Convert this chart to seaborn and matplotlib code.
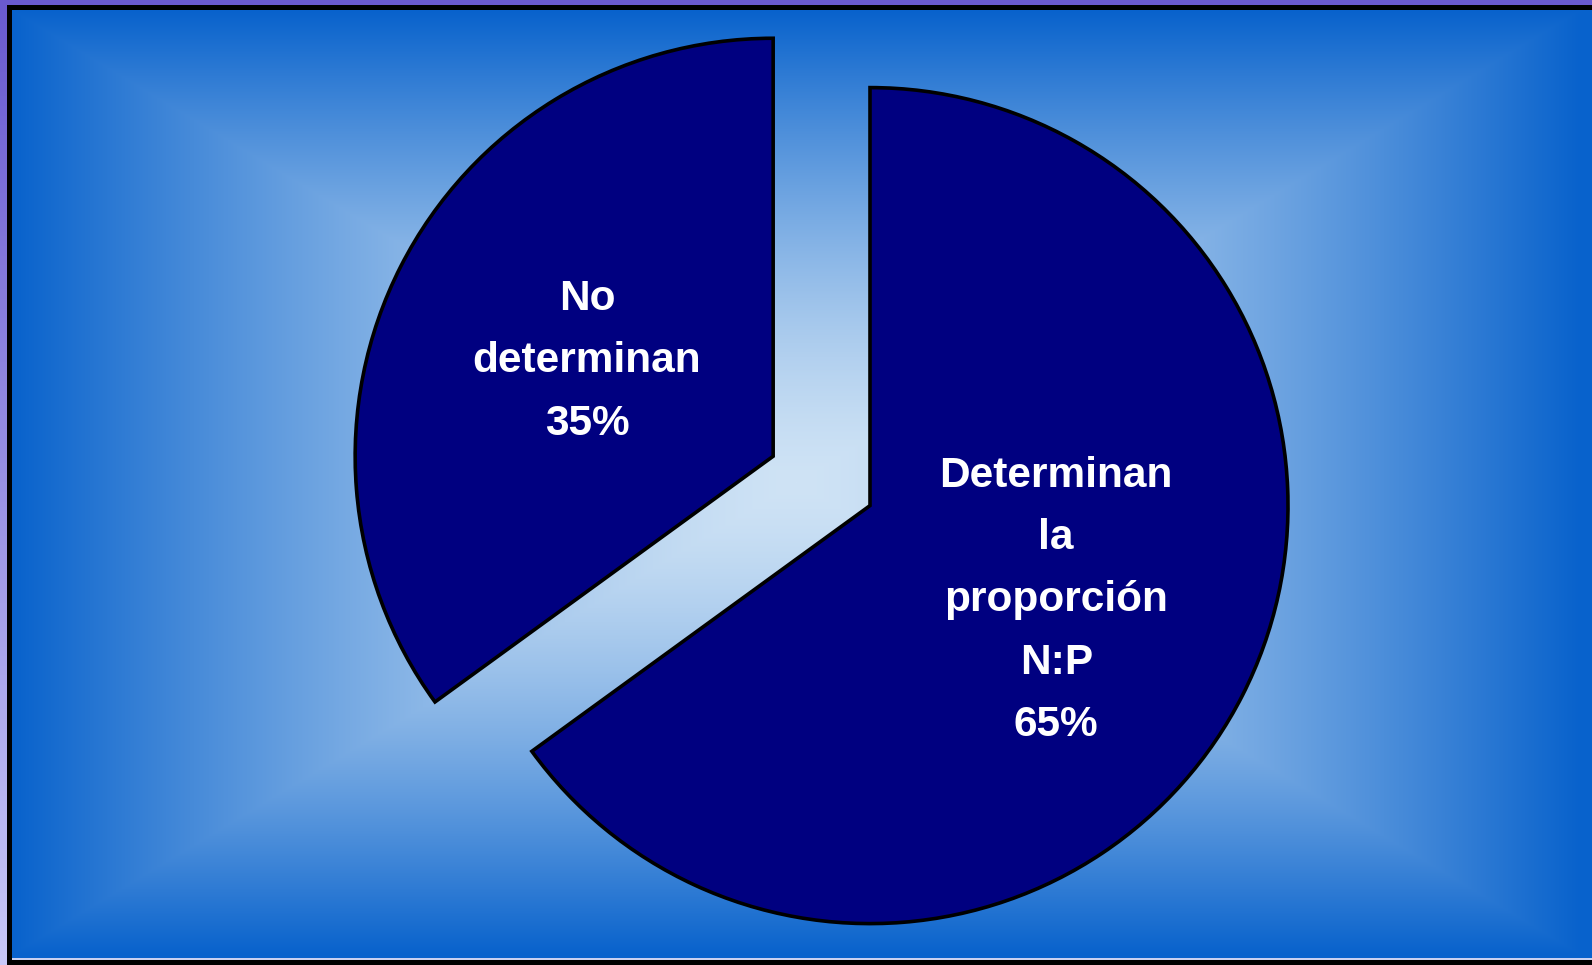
import numpy as np
import matplotlib
matplotlib.use("Agg")
import matplotlib.pyplot as plt
from matplotlib.patches import Rectangle
import seaborn as sns

# ---- data ----
categories = ["Determinan\nla\nproporción\nN:P", "No\ndeterminan"]
values = [65, 35]
explode = [0.0, 0.26]
slice_colors = ["#000080", "#000080"]

sns.set_theme(style="white")
plt.rcParams["font.family"] = ["Liberation Sans", "DejaVu Sans"]

W, H = 1592, 965
fig = plt.figure(figsize=(W / 100, H / 100), dpi=100)
fig.patch.set_facecolor("#0a64cc")

# ---- background gradient (rectangular, from centre) ----
x0, y0, x1, y1 = 12, 10, 1592, 959  # pixel box (top-left origin)
bg = fig.add_axes([x0 / W, 1 - y1 / H, (x1 - x0) / W, (y1 - y0) / H])
bg.set_axis_off()
nx, ny = x1 - x0, y1 - y0
cx, cy = 796 - x0, 482 - y0
xx = np.arange(nx)[None, :]
yy = np.arange(ny)[:, None]
t = np.maximum(np.abs(xx - cx) / cx, np.abs(yy - cy) / cy)
t = np.clip(t, 0, 1) ** 1.45
c_in = np.array([0xcf, 0xe3, 0xf5]) / 255
c_out = np.array([0x08, 0x62, 0xcc]) / 255
img = c_in[None, None, :] * (1 - t[..., None]) + c_out[None, None, :] * t[..., None]
bg.imshow(img, aspect="auto", interpolation="bilinear")

# ---- frame ----
def px_rect(x, y, w, h, color):
    fig.patches.append(Rectangle((x / W, 1 - (y + h) / H), w / W, h / H,
                                 transform=fig.transFigure, color=color,
                                 zorder=5, lw=0))

# left gradient strip purple -> lavender
strip = fig.add_axes([0, 0, 7 / W, 1])
strip.set_axis_off()
sv = np.linspace(0, 1, 200)[:, None]
top_c = np.array([0x6a, 0x5a, 0xd0]) / 255
bot_c = np.array([0xc8, 0xc8, 0xf8]) / 255
strip.imshow((top_c * (1 - sv) + bot_c * sv)[:, None, :], aspect="auto")
px_rect(0, 0, W, 5, "#6a5ad0")
px_rect(7, 5, W - 7, 5, "#000000")
px_rect(7, 5, 5, H - 5, "#000000")
px_rect(12, 958, W - 12, 2, "#c8d0f0")
px_rect(7, 960, W - 7, 5, "#000000")

# ---- pie ----
ax = fig.add_axes([0, 0, 1, 1])
ax.patch.set_alpha(0)
labels_iter = iter(categories)
wedges, texts, autotexts = ax.pie(
    values,
    explode=explode,
    colors=slice_colors,
    startangle=90,
    counterclock=False,
    autopct=lambda p: f"{next(labels_iter)}\n{p:.0f}%",
    pctdistance=0.5,
    wedgeprops=dict(edgecolor="black", linewidth=2.6),
)
for at in autotexts:
    at.set_color("white")
    at.set_fontsize(30.5)
    at.set_fontweight("bold")
    at.set_linespacing(1.72)
    at.set_ha("center")
    at.set_va("center")

r_px = 418.0
cxp, cyp = 870.0, 505.6
ax.set_xlim(-cxp / r_px, (W - cxp) / r_px)
ax.set_ylim(-(H - cyp) / r_px, cyp / r_px)
ax.set_axis_off()

fig.savefig("out.png", dpi=100)
